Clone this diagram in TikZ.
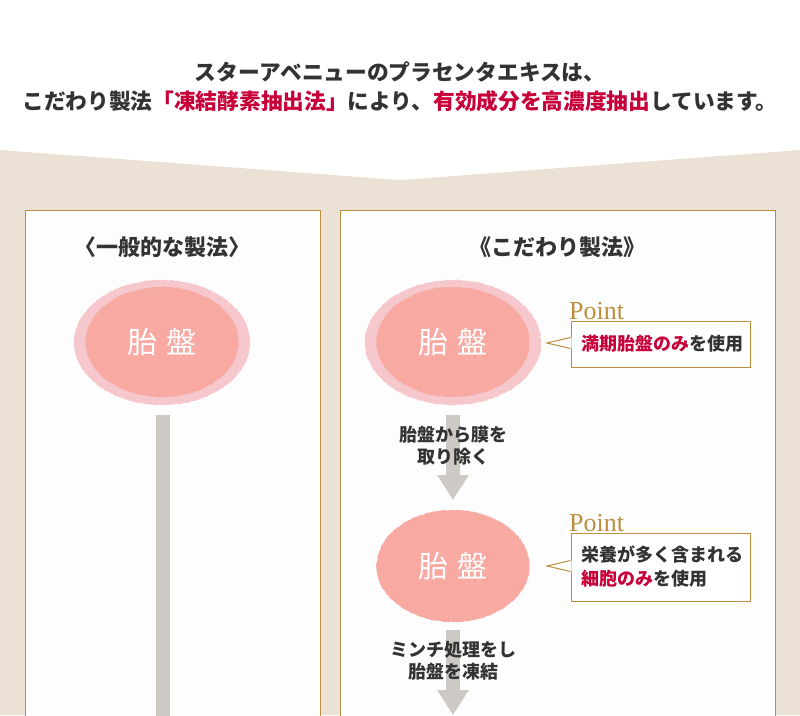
\documentclass[tikz,border=0pt]{standalone}
\usepackage{fontspec}
\setmainfont{Liberation Serif}
\newfontfamily\jp{Noto Sans CJK JP}
\usetikzlibrary{arrows.meta,shapes.geometric,decorations.pathmorphing}
\definecolor{beige}{HTML}{EBE2D5}
\definecolor{gold}{HTML}{BC8F3F}
\definecolor{bar}{HTML}{CDCAC5}
\definecolor{pinkout}{HTML}{F6C7CC}
\definecolor{salmon}{HTML}{F8A9A2}
\definecolor{accent}{HTML}{C8003A}
\definecolor{dark}{HTML}{333333}
\definecolor{panel}{HTML}{FDFDFD}
\tikzset{
  panelbox/.style={draw=gold, fill=panel, line width=1pt},
  title/.style={font=\jp\bfseries\fontsize{21.7}{26}\selectfont, text=dark, inner sep=0pt},
  heading/.style={font=\jp\bfseries\fontsize{22}{26}\selectfont, text=dark, inner sep=0pt},
  rough/.style={decorate, decoration={random steps, segment length=1.5pt, amplitude=0.5pt}},
  ring/.style={ellipse, fill=pinkout, minimum width=176pt, minimum height=125pt, inner sep=0pt, rough},
  placenta/.style={ellipse, fill=salmon, minimum width=153pt, minimum height=110pt, inner sep=0pt,
    text=white, font=\jp\fontsize{30}{30}\selectfont, rough},
  steptext/.style={font=\jp\bfseries\fontsize{18}{22}\selectfont, text=dark, align=center, inner sep=0pt},
  flowbar/.style={draw=bar, line width=14pt},
  flowarrow/.style={draw=bar, line width=14pt, -{Triangle[width=30pt,length=25pt]}},
  pointbox/.style={draw=gold, fill=white, line width=1pt, anchor=north west, minimum width=179pt,
    text width=159pt, inner xsep=10pt, inner ysep=0pt, align=left,
    font=\jp\bfseries\fontsize{18}{24}\selectfont, text=dark},
  pointlabel/.style={font=\fontsize{26}{26}\selectfont, text=gold, anchor=base west, inner sep=0pt},
}
\newcommand{\hl}[1]{\textcolor{accent}{#1}}
\begin{document}
\begin{tikzpicture}[x=1pt,y=-1pt]
\useasboundingbox (0,0) rectangle (800,715);
\fill[white] (0,0) rectangle (800,715);
\fill[beige] (0,150) -- (400,180) -- (800,150) -- (800,715) -- (0,715) -- cycle;

% title
\node[title] (t1) at (400,72) {スターアベニューのプラセンタエキスは、};
\node[title] (t2) at (400,101) {こだわり製法\hl{「凍結酵素抽出法」}により、\hl{有効成分を高濃度抽出}しています。};

% panels
\draw[panelbox] (25.5,210.5) rectangle (320.5,725);
\draw[panelbox] (340.5,210.5) rectangle (775.5,725);

\node[heading] (h1) at (162,247) {〈一般的な製法〉};
\node[heading] (h2) at (557,247) {《こだわり製法》};

% left column
\node[ring] (r1) at (162,342.5) {};
\node[placenta] (p1) at (162,342) {胎\hspace{0.3em}盤};
\coordinate (l1) at (163,725);
\draw[flowbar] ([xshift=1pt,yshift=-18pt]p1.south) -- (l1);

% right column
\node[ring] (r2) at (453,342.5) {};
\node[placenta] (p2) at (453,342) {胎\hspace{0.3em}盤};
\node[placenta, minimum height=112pt] (p3) at (453,566) {胎\hspace{0.3em}盤};
\coordinate (a1) at (453,500);
\coordinate (a2) at (453,715);
\draw[flowarrow] ([yshift=-18pt]p2.south) -- (a1);
\draw[flowarrow] ([yshift=-8pt]p3.south) -- (a2);
\node[steptext] (s1) at (453,446) {胎盤から膜を\\取り除く};
\node[steptext] (s2) at (453,661) {ミンチ処理をし\\胎盤を凍結};

% point callouts
\node[pointbox, minimum height=46pt] (b1) at (570.5,320.5) {\hl{満期胎盤のみ}を使用};
\coordinate (c1) at (547,343);
\fill[white] (571.5,337.5) -- (c1) -- (571.5,348.5) -- cycle;
\draw[gold, line width=1pt] (570.5,337.5) -- (c1) -- (570.5,348.5);
\node[pointlabel] (pt1) at (569,319.5) {Point};

\node[pointbox, minimum height=68pt] (b2) at (570.5,532.5) {栄養が多く含まれる\\\hl{細胞のみ}を使用};
\coordinate (c2) at (547,566);
\fill[white] (571.5,560.5) -- (c2) -- (571.5,571.5) -- cycle;
\draw[gold, line width=1pt] (570.5,560.5) -- (c2) -- (570.5,571.5);
\node[pointlabel] (pt2) at (569,531.5) {Point};
\end{tikzpicture}
\end{document}
